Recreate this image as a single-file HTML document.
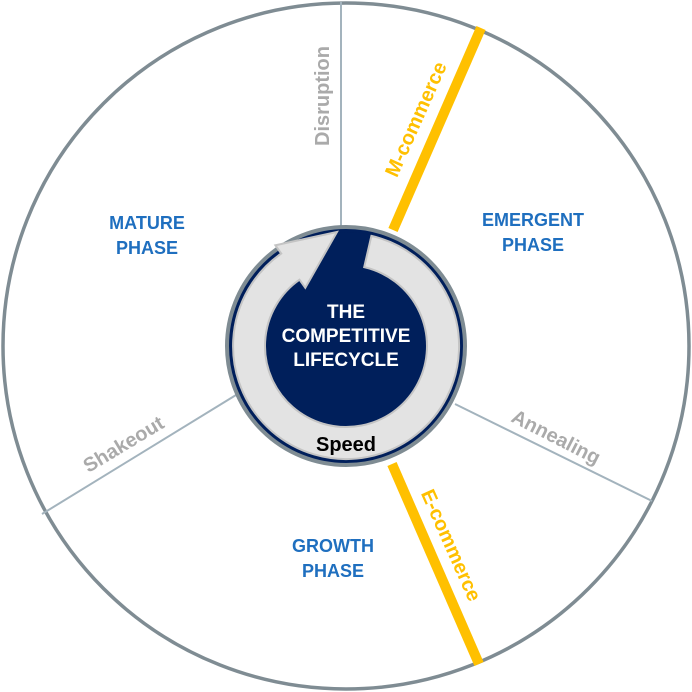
<!DOCTYPE html>
<html><head><meta charset="utf-8"><style>
html,body{margin:0;padding:0;background:#fff;}
svg{display:block;}
text{font-family:"Liberation Sans",Arial,sans-serif;font-weight:bold;}
</style></head><body>
<svg width="692" height="692" viewBox="0 0 692 692" xmlns="http://www.w3.org/2000/svg">
<circle cx="346" cy="346" r="343" fill="#fff" stroke="#7f8c93" stroke-width="3.5"/>
<line x1="341" y1="2" x2="341" y2="228" stroke="#a3b3bd" stroke-width="2"/>
<line x1="455" y1="404" x2="652" y2="501" stroke="#a3b3bd" stroke-width="2"/>
<line x1="236" y1="395" x2="42" y2="514" stroke="#a3b3bd" stroke-width="2"/>
<line x1="481" y1="28" x2="393" y2="230" stroke="#ffc000" stroke-width="10"/>
<line x1="392" y1="464" x2="479" y2="664" stroke="#ffc000" stroke-width="10"/>
<circle cx="346" cy="346" r="119" fill="#001f5b" stroke="#7f8c93" stroke-width="4"/>
<circle cx="346" cy="346" r="115" fill="none" stroke="#001f5b" stroke-width="2"/>
<path d="M371.4,235.9 A113,113 0 1 1 281.2,253.5 L275.4,245.3 L337,232 L305.3,287.8 L299.5,279.7 A81,81 0 1 0 364.2,267.1 Z" fill="#e3e3e3" stroke="#c4c4c4" stroke-width="2"/>
<text x="346" y="318" fill="#fff" font-size="19" text-anchor="middle">THE</text>
<text x="346" y="342" fill="#fff" font-size="19" text-anchor="middle">COMPETITIVE</text>
<text x="346" y="366" fill="#fff" font-size="19" text-anchor="middle">LIFECYCLE</text>
<text x="346" y="451" fill="#000" font-size="20" text-anchor="middle">Speed</text>
<text x="147" y="229" fill="#1f6fbf" font-size="18" text-anchor="middle">MATURE</text>
<text x="147" y="254" fill="#1f6fbf" font-size="18" text-anchor="middle">PHASE</text>
<text x="533" y="226" fill="#1f6fbf" font-size="18" text-anchor="middle">EMERGENT</text>
<text x="533" y="251" fill="#1f6fbf" font-size="18" text-anchor="middle">PHASE</text>
<text x="333" y="552" fill="#1f6fbf" font-size="18" text-anchor="middle">GROWTH</text>
<text x="333" y="577" fill="#1f6fbf" font-size="18" text-anchor="middle">PHASE</text>
<text transform="translate(329,96) rotate(-90)" fill="#aaaaaa" font-size="20" text-anchor="middle">Disruption</text>
<text transform="translate(422,122) rotate(-66)" fill="#ffc000" font-size="20" text-anchor="middle">M-commerce</text>
<text transform="translate(445,548) rotate(66)" fill="#ffc000" font-size="20" text-anchor="middle">E-commerce</text>
<text transform="translate(127,450) rotate(-31)" fill="#aaaaaa" font-size="20" text-anchor="middle">Shakeout</text>
<text transform="translate(553,443) rotate(27)" fill="#aaaaaa" font-size="20" text-anchor="middle">Annealing</text>
</svg>
</body></html>
